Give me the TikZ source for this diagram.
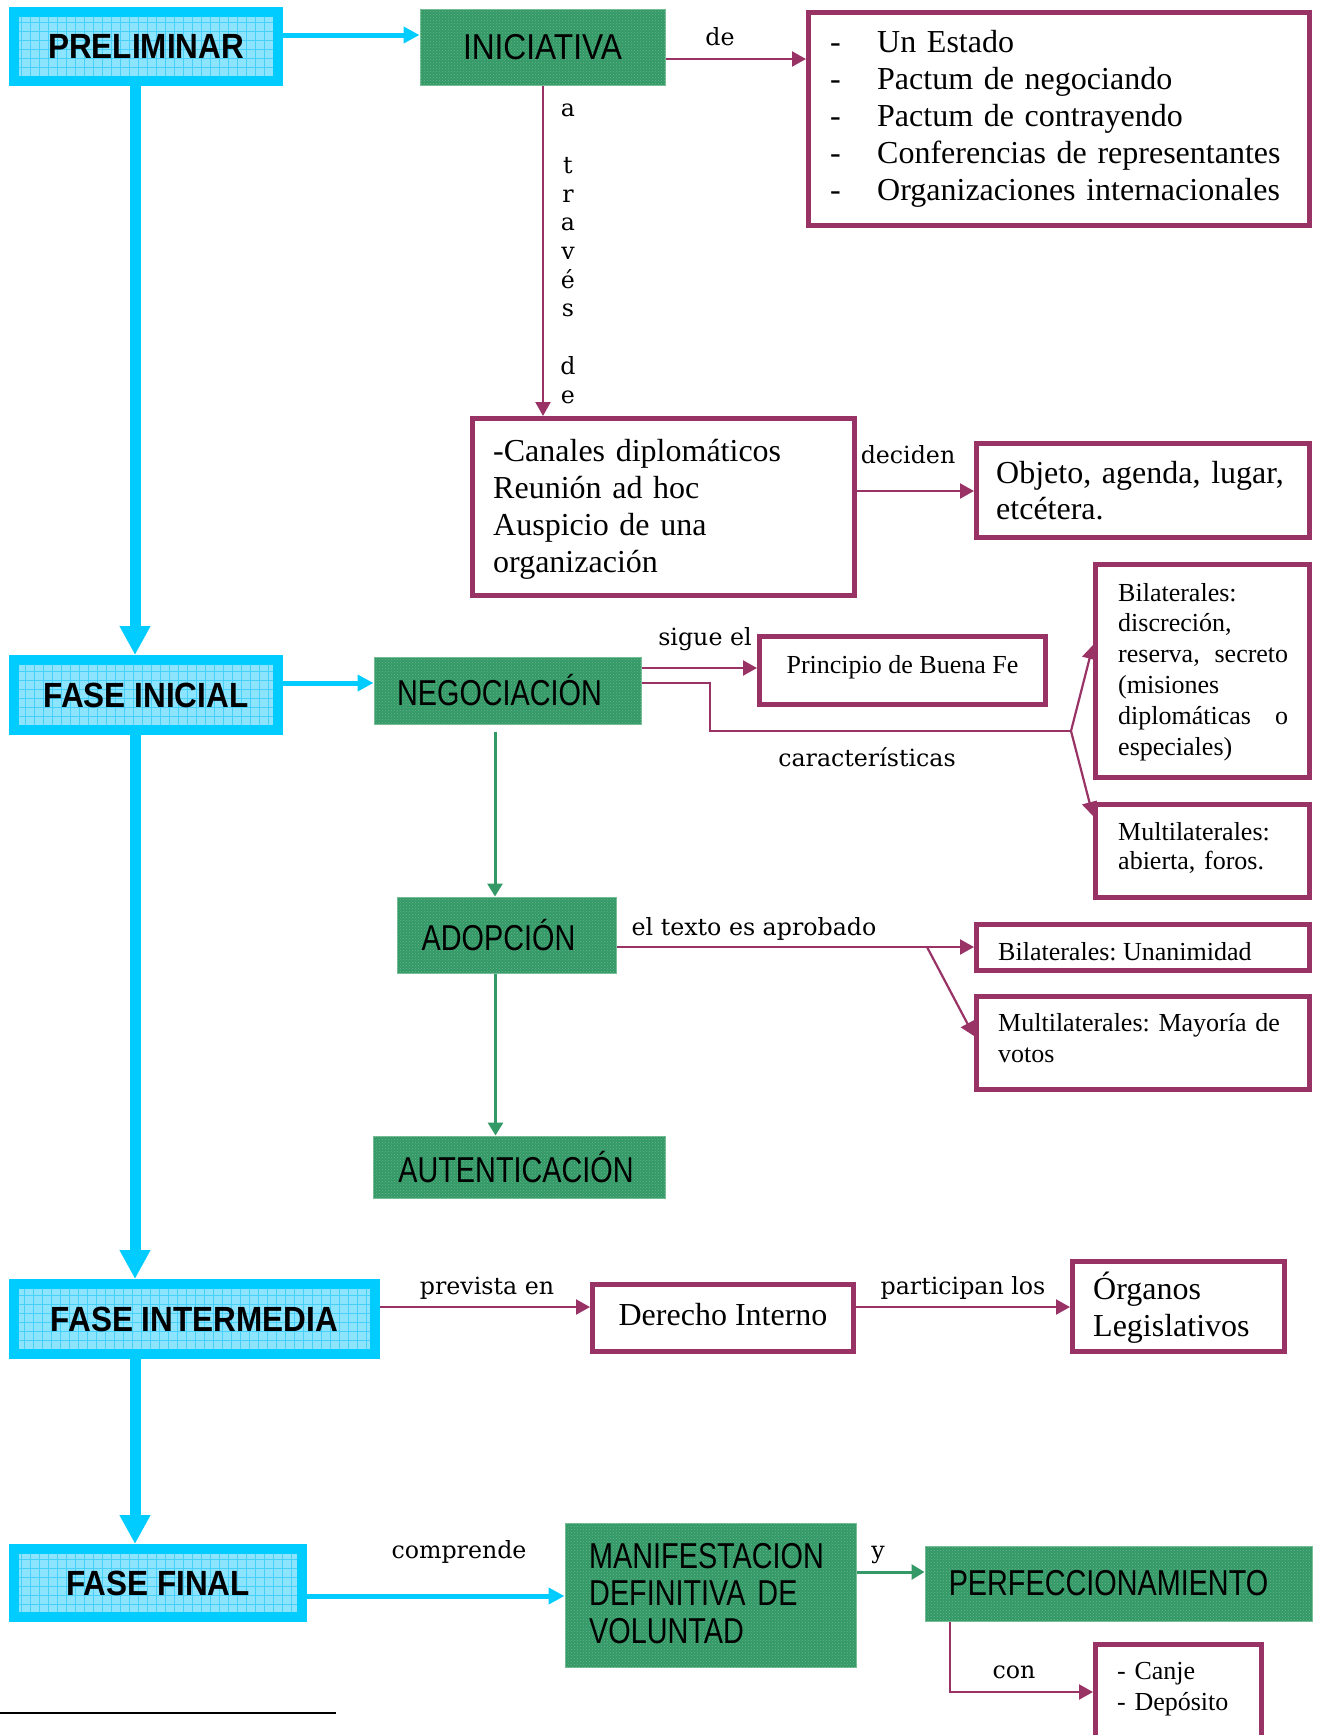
\documentclass[tikz,border=0pt]{standalone}
\usepackage{fontspec}
\setmainfont{Liberation Serif}
\newfontfamily\cyanfont{Liberation Sans}[FakeStretch=0.9]
\newfontfamily\greenfont{Liberation Sans}[FakeStretch=0.8]
\newfontfamily\greenwide{Liberation Sans}[FakeStretch=0.88]
\newfontfamily\lblfont{DejaVu Serif}
\usetikzlibrary{arrows.meta,patterns}
\definecolor{cyanC}{RGB}{0,204,255}
\definecolor{cyanL}{RGB}{140,228,255}
\definecolor{cyanG}{RGB}{70,208,250}
\definecolor{greenC}{RGB}{51,153,102}
\definecolor{greenD}{RGB}{105,180,140}
\definecolor{greenL}{RGB}{120,190,150}
\definecolor{purpC}{RGB}{153,51,102}
\tikzset{
  cbox/.style={draw=cyanC, line width=10pt, fill=cyanL, inner sep=0pt,
    font={\cyanfont\bfseries\fontsize{35}{35}\selectfont},
    path picture={\draw[cyanG, line width=0.8pt] (path picture bounding box.south west) grid[step=9pt] (path picture bounding box.north east);}},
  gbox/.style={fill=greenC, draw=greenL, line width=1pt, inner sep=0pt,
    font={\greenfont\fontsize{36}{36}\selectfont},
    postaction={pattern=crosshatch dots, pattern color=greenD}},
  pbox/.style={draw=purpC, line width=5pt, inner sep=0pt},
  btext/.style={anchor=base west, inner sep=0pt, align=left, font={\fontsize{32}{37}\selectfont}},
  stext/.style={anchor=base west, inner sep=0pt, align=left, font={\fontsize{26}{30.8}\selectfont}},
  lbl/.style={anchor=base, inner sep=0pt, font={\lblfont\fontsize{23.7}{28.7}\selectfont}},
  carrow/.style={draw=cyanC, line width=5pt, -{Triangle[length=16pt,width=16pt]}},
  cvarrow/.style={draw=cyanC, line width=11pt, -{Triangle[length=29pt,width=29pt]}},
  parrow/.style={draw=purpC, line width=2.2pt, -{Triangle[length=14pt,width=15pt]}},
  pline/.style={draw=purpC, line width=2.2pt},
  garrow/.style={draw=greenC, line width=3pt, -{Triangle[length=13pt,width=15pt]}},
}
\begin{document}
\frenchspacing
\begin{tikzpicture}[x=1pt,y=-1pt]
\useasboundingbox (0,0) rectangle (1320,1735);

% ---------- boxes ----------
\node[cbox, minimum width=264pt, minimum height=69pt] (pre) at (146,46.5) {PRELIMINAR};
\node[gbox, font={\greenwide\fontsize{36}{36}\selectfont}, minimum width=245pt, minimum height=76pt] (ini) at (542.5,47) {INICIATIVA};

\node[pbox, minimum width=501pt, minimum height=213pt] (lst) at (1059,119) {};
\node[btext, text width=470pt] (lstT) at (830,52)
  {\makebox[47pt][l]{-}Un Estado\\
   \makebox[47pt][l]{-}Pactum de negociando\\
   \makebox[47pt][l]{-}Pactum de contrayendo\\
   \makebox[47pt][l]{-}Conferencias de representantes\\
   \makebox[47pt][l]{-}Organizaciones internacionales};

\node[pbox, minimum width=382pt, minimum height=177pt] (can) at (663.5,507) {};
\node[btext, text width=350pt] (canT) at (493,461)
  {-Canales diplomáticos\\Reunión ad hoc\\Auspicio de una\\organización};

\node[pbox, minimum width=333pt, minimum height=94pt] (obj) at (1143,490.5) {};
\node[btext, text width=310pt, font={\fontsize{32}{36.5}\selectfont}] (objT) at (996,483)
  {Objeto, agenda, lugar,\\etcétera.};

\node[cbox, minimum width=264pt, minimum height=70pt] (fi) at (146,695) {FASE INICIAL};
\node[gbox, minimum width=267pt, minimum height=67pt] (neg) at (507.5,690.5) {NEGOCIACIÓN\hspace*{16pt}};

\node[pbox, minimum width=286pt, minimum height=68pt] (pri) at (902.5,670.5) {};
\node[stext, anchor=base] (priT) at (902.5,673) {Principio de Buena Fe};

\node[pbox, minimum width=214pt, minimum height=213pt] (bil1) at (1202.5,671) {};
\node[stext, text width=170pt] (bil1T) at (1118,601)
  {Bilaterales:\\discreción,\\reserva,\hfill secreto\\(misiones\\diplomáticas\hfill o\\especiales)};

\node[pbox, minimum width=214pt, minimum height=93pt] (mul1) at (1202.5,851) {};
\node[stext, text width=180pt, font={\fontsize{26}{29.5}\selectfont}] (mul1T) at (1118,840)
  {Multilaterales:\\abierta, foros.};

\node[gbox, minimum width=219pt, minimum height=76pt] (ado) at (506.5,935) {ADOPCIÓN\hspace*{16pt}};

\node[pbox, minimum width=333pt, minimum height=46pt] (bil2) at (1143,947.5) {};
\node[stext] (bil2T) at (998,960) {Bilaterales: Unanimidad};

\node[pbox, minimum width=333pt, minimum height=93pt] (mul2) at (1143,1043) {};
\node[stext, text width=310pt, font={\fontsize{26}{31.5}\selectfont}] (mul2T) at (998,1031)
  {Multilaterales: Mayoría de\\votos};

\node[gbox, minimum width=292pt, minimum height=62pt] (aut) at (519,1167) {AUTENTICACIÓN\hspace*{6pt}};

\node[cbox, minimum width=361pt, minimum height=70pt] (fint) at (194.5,1319) {FASE INTERMEDIA};

\node[pbox, minimum width=261pt, minimum height=67pt] (der) at (723,1318) {};
\node[btext, anchor=base] (derT) at (723,1325) {Derecho Interno};

\node[pbox, minimum width=212pt, minimum height=90pt] (org) at (1178.5,1306.5) {};
\node[btext, text width=190pt, font={\fontsize{32}{37.5}\selectfont}] (orgT) at (1093,1299)
  {Órganos\\Legislativos};

\node[cbox, minimum width=288pt, minimum height=68pt] (ff) at (158,1583) {FASE FINAL};

\node[gbox, minimum width=291pt, minimum height=144pt] (man) at (710.5,1595) {};
\node[anchor=base west, inner sep=0pt, text width=270pt, align=left,
      font={\greenfont\fontsize{36}{37.5}\selectfont}] (manT) at (589,1568)
  {MANIFESTACION\\DEFINITIVA DE\\VOLUNTAD};

\node[gbox, minimum width=387pt, minimum height=75pt] (per) at (1118.5,1583.5) {PERFECCIONAMIENTO\hspace*{20pt}};

\node[pbox, minimum width=166pt, minimum height=123pt] (cj) at (1178.5,1706) {};
\node[stext, text width=140pt, font={\fontsize{26}{31}\selectfont}] (cjT) at (1117,1679)
  {- Canje\\- Depósito};

% ---------- labels ----------
\node[lbl] (lde) at (720,45) {de};
\node[lbl, text width=30pt, align=center] (ltr) at (568,116)
  {a\\\mbox{}\\t\\r\\a\\v\\é\\s\\\mbox{}\\d\\e};
\node[lbl] (ldec) at (908,463) {deciden};
\node[lbl] (lsig) at (705,645) {sigue el};
\node[lbl] (lcar) at (867,766) {características};
\node[lbl] (ltex) at (754,935) {el texto es aprobado};
\node[lbl] (lpre) at (487,1294) {prevista en};
\node[lbl] (lpar) at (963,1294) {participan los};
\node[lbl] (lcom) at (459,1558) {comprende};
\node[lbl] (ly) at (878,1558) {y};
\node[lbl] (lcon) at (1014,1678) {con};

% ---------- coordinates ----------
\coordinate (c1) at (710,731);
\coordinate (br1) at (1071,731);
\coordinate (br2) at (927,947);
\coordinate (s1) at ([yshift=11.5pt]pre.east);
\coordinate (s2) at ([yshift=-12pt]ini.east);
\coordinate (s3) at ([xshift=0.5pt]ini.south);
\coordinate (s4) at ([yshift=16pt]can.east);
\coordinate (v1) at ([xshift=-11pt]pre.south);
\coordinate (v2) at ([xshift=-11pt]fi.south);
\coordinate (v3) at ([xshift=-59.5pt]fint.south);
\coordinate (s5) at ([yshift=12pt]fi.east);
\coordinate (s6) at ([yshift=22.5pt]neg.east);
\coordinate (s7) at ([yshift=7.5pt]neg.east);
\coordinate (g1) at ([xshift=-12.5pt,yshift=-7pt]neg.south);
\coordinate (g2) at ([xshift=-11pt]ado.south);
\coordinate (s8) at ([yshift=-12pt]ado.east);
\coordinate (s9) at ([yshift=12pt]fint.east);
\coordinate (s10) at ([yshift=11pt]der.east);
\coordinate (s11) at ([yshift=-13pt]ff.east);
\coordinate (s12) at ([yshift=23pt]man.east);
\coordinate (s13) at ([xshift=-168.5pt]per.south);
\coordinate (s14) at ([yshift=14pt]cj.west);

% ---------- connectors ----------
\draw[carrow] (s1) -- (s1 -| ini.west);
\draw[parrow] (s2) -- (s2 -| lst.west);
\draw[parrow] (s3) -- (s3 |- can.north);
\draw[parrow] (s4) -- (s4 -| obj.west);
\draw[cvarrow] (v1) -- (v1 |- fi.north);
\draw[cvarrow] (v2) -- (v2 |- fint.north);
\draw[cvarrow] (v3) -- (v3 |- ff.north);
\draw[carrow] (s5) -- (s5 -| neg.west);
\draw[parrow] (s6) -- (s6 -| pri.west);
\draw[pline] (s7) -| (c1) -- (br1);
\draw[parrow] (br1) -- ([yshift=26pt]bil1.west);
\draw[parrow] (br1) -- ([yshift=35pt]mul1.west);
\draw[garrow] (g1) -- (g1 |- ado.north);
\draw[garrow] (g2) -- (g2 |- aut.north);
\draw[parrow] (s8) -- (s8 -| bil2.west);
\draw[parrow] (br2) -- ([yshift=7pt]mul2.west);
\draw[parrow] (s9) -- (s9 -| der.west);
\draw[parrow] (s10) -- (s10 -| org.west);
\draw[carrow] (s11) -- (s11 -| man.west);
\draw[garrow] (s12) -- (s12 -| per.west);
\draw[parrow] (s13) |- (s14);

% footnote rule
\draw[line width=2.5pt] (0,1713) -- (336,1713);
\end{tikzpicture}
\end{document}
